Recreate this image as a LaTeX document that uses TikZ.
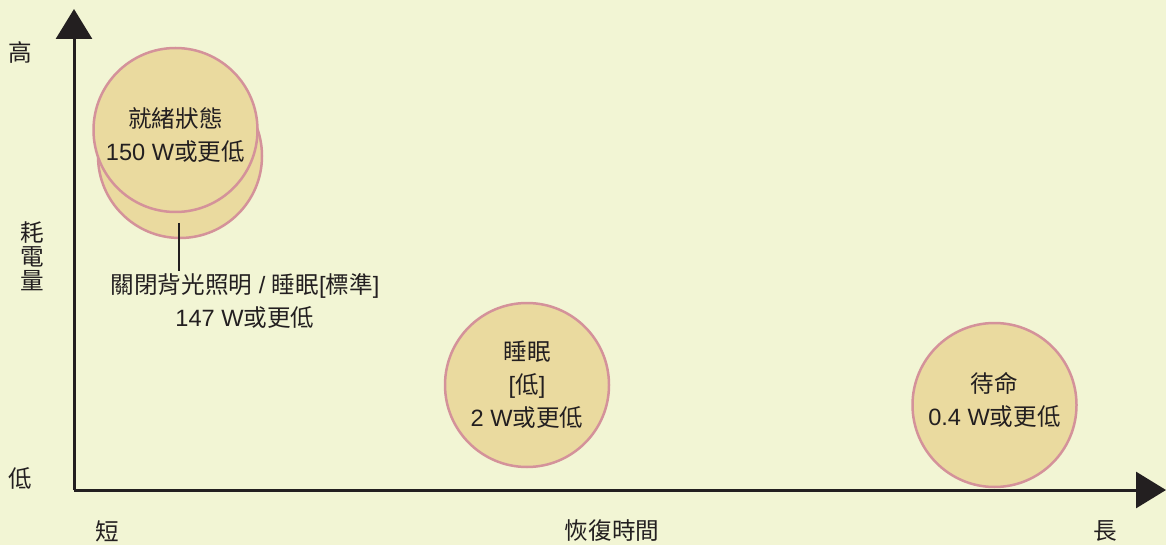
\documentclass[tikz,border=0pt]{standalone}
\usepackage{fontspec}
\setmainfont{Liberation Sans}
\newfontfamily\cjk{Noto Sans CJK TC}
\newcommand{\zh}[1]{{\cjk #1}}
\usetikzlibrary{arrows.meta,positioning}
\definecolor{bgcol}{HTML}{F2F5D4}
\definecolor{discfill}{HTML}{EADA9F}
\definecolor{discline}{HTML}{D4929A}
\definecolor{ink}{HTML}{231F20}

\begin{document}
\begin{tikzpicture}[x=0.5pt,y=-0.5pt,
  disc/.style={circle,draw=discline,fill=discfill,line width=1.25pt,minimum size=82pt,inner sep=0pt},
  lbl/.style={text=ink,font=\fontsize{11.8}{16.5}\selectfont,align=center,inner sep=1pt},
  axis/.style={draw=ink,line width=1.5pt,-{Triangle[length=15pt,width=18pt]}}]
\fill[bgcol] (0,0) rectangle (1166,545);
\useasboundingbox (0,0) rectangle (1166,545);
\coordinate (O) at (74,490);
\coordinate (ytop) at (74,9);
\coordinate (xend) at (1166,490);
\draw[axis] (O) -- (ytop);
\draw[axis] (O) -- (xend);
\node[lbl] at (20,52) (hi) {\zh{高}};
\node[lbl,font=\fontsize{11.8}{11.9}\selectfont] at (32,256) (power) {\zh{耗}\\\zh{電}\\\zh{量}};
\node[lbl] at (20,478) (lo) {\zh{低}};
\node[lbl] at (107,531) (short) {\zh{短}};
\node[lbl] at (612,531) (time) {\zh{恢復時間}};
\node[lbl] at (1105,531) (long) {\zh{長}};
\node[disc] at (180,156) (sleepstd) {};
\node[disc,label={[lbl,yshift=-2.5pt]center:\zh{就緒狀態}\\150 W\zh{或更低}}] at (175.5,130) (ready) {};
\node[disc,label={[lbl]center:\zh{睡眠}\\{[}\zh{低}]\\2 W\zh{或更低}}] at (527,385) (sleeplow) {};
\node[disc,label={[lbl,yshift=2.5pt]center:\zh{待命}\\0.4 W\zh{或更低}}] at (994.5,405) (standby) {};
\node[lbl] at (245,301) (note) {\zh{關閉背光照明} / \zh{睡眠}[\zh{標準}]\\147 W\zh{或更低}};
\coordinate (tick) at (179,223);
\draw[ink,line width=1.3pt] (tick) -- (tick |- note.north);
\end{tikzpicture}
\end{document}
